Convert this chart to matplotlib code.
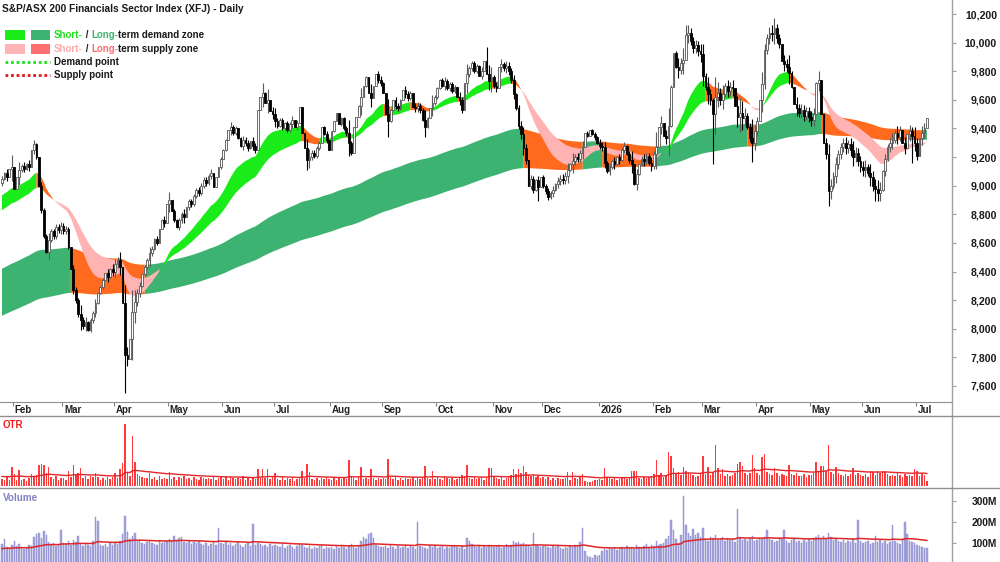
import numpy as np
import pandas as pd
import matplotlib
matplotlib.use("Agg")
import matplotlib.pyplot as plt
from matplotlib.lines import Line2D
from matplotlib.patches import Rectangle

plt.rcParams['font.family'] = ['Liberation Sans', 'DejaVu Sans']

# daily closes, one list per month
close_jan25 = [9050, 9090, 9060, 9120, 9130]
close_feb25 = [8980, 9060, 9110, 9140, 9120, 9150, 9130, 9250, 9290, 9200, 9000, 8830, 8650, 8540, 8620, 8680, 8650, 8710, 8690, 8720]
close_mar25 = [8680, 8700, 8570, 8420, 8270, 8200, 8100, 8060, 8020, 8050, 7990, 8060, 8110, 8180, 8250, 8290, 8340, 8390, 8360, 8420, 8400]
close_apr25 = [8450, 8480, 8430, 8180, 7820, 7790, 7930, 8120, 8190, 8250, 8300, 8380, 8430, 8480, 8530, 8560, 8630, 8600, 8700, 8760, 8740, 8870]
close_may25 = [8900, 8820, 8760, 8710, 8760, 8800, 8780, 8850, 8890, 8870, 8930, 8970, 8950, 9000, 9040, 9020, 9070, 9090, 8990, 9060, 9130, 9190]
close_jun25 = [9250, 9320, 9390, 9410, 9370, 9400, 9330, 9280, 9320, 9300, 9260, 9310, 9280, 9250, 9530, 9620, 9650, 9580, 9600, 9520, 9500]
close_jul25 = [9450, 9420, 9460, 9400, 9440, 9390, 9430, 9460, 9410, 9440, 9550, 9370, 9260, 9180, 9200, 9230, 9210, 9260, 9300, 9410, 9360, 9320, 9250]
close_aug25 = [9380, 9450, 9510, 9430, 9470, 9400, 9370, 9300, 9230, 9410, 9480, 9560, 9620, 9700, 9760, 9650, 9610, 9700, 9780, 9740, 9720]
close_sep25 = [9650, 9500, 9450, 9530, 9600, 9560, 9540, 9600, 9670, 9640, 9610, 9650, 9550, 9540, 9560, 9530, 9460, 9410, 9470, 9540, 9580, 9620]
close_oct25 = [9680, 9740, 9700, 9730, 9680, 9710, 9660, 9690, 9620, 9600, 9530, 9720, 9780, 9820, 9860, 9800, 9840, 9770, 9800, 9870, 9780, 9730, 9760]
close_nov25 = [9700, 9680, 9830, 9850, 9820, 9840, 9800, 9740, 9640, 9540, 9420, 9360, 9260, 9180, 9000, 9050, 8970, 9040, 8990, 9060]
close_dec25 = [9000, 8960, 8920, 8950, 8970, 9010, 9030, 9050, 9040, 9070, 9110, 9150, 9170, 9200, 9190, 9230, 9270, 9370, 9350, 9390, 9360, 9340, 9300]
close_jan26 = [9280, 9270, 9160, 9100, 9130, 9170, 9150, 9200, 9180, 9250, 9280, 9220, 9180, 9150, 9010, 9080, 9150, 9190, 9170, 9210, 9160, 9140]
close_feb26 = [9220, 9270, 9410, 9440, 9350, 9330, 9420, 9690, 9930, 9830, 9810, 9860, 9880, 10050, 10070, 10010, 9960, 9980, 9940, 9920]
close_mar26 = [9770, 9690, 9640, 9600, 9500, 9620, 9650, 9600, 9640, 9700, 9660, 9690, 9680, 9560, 9480, 9510, 9470, 9490, 9410, 9330, 9300, 9380]
close_apr26 = [9450, 9600, 9710, 9950, 10030, 10070, 10060, 10100, 10030, 9990, 9870, 9850, 9830, 9790, 9690, 9570, 9540, 9510, 9530, 9490, 9520, 9480]
close_may26 = [9460, 9500, 9720, 9740, 9500, 9300, 9220, 8960, 9000, 9070, 9150, 9220, 9270, 9300, 9260, 9290, 9250, 9200, 9230, 9170, 9130]
close_jun26 = [9110, 9130, 9090, 9060, 9000, 8980, 8950, 8970, 9100, 9190, 9270, 9300, 9320, 9370, 9340, 9390, 9300, 9260, 9360, 9380, 9350, 9300]
close_jul26 = [9210, 9330, 9370, 9400, 9470]

# daily range (OTR panel), index points
otr_jan25 = [70, 55, 90, 60, 185]
otr_feb25 = [120, 60, 160, 55, 70, 45, 80, 120, 90, 110, 205, 215, 205, 130, 185, 90, 70, 100, 60, 80]
otr_mar25 = [75, 60, 150, 90, 205, 110, 130, 175, 80, 95, 70, 100, 85, 130, 90, 60, 75, 55, 90, 70, 85]
otr_apr25 = [130, 80, 165, 225, 610, 130, 100, 490, 235, 120, 100, 90, 75, 80, 130, 70, 85, 60, 95, 70, 80, 65]
otr_may25 = [140, 70, 90, 60, 85, 75, 100, 65, 80, 55, 90, 70, 60, 85, 75, 65, 80, 70, 95, 60, 75, 85]
otr_jun25 = [70, 85, 60, 90, 75, 65, 80, 70, 95, 60, 75, 55, 85, 70, 165, 80, 165, 75, 165, 70, 85]
otr_jul25 = [130, 70, 60, 85, 55, 75, 65, 80, 50, 70, 90, 150, 75, 215, 135, 70, 55, 80, 60, 75, 65, 90, 70]
otr_aug25 = [60, 75, 55, 80, 65, 90, 70, 255, 95, 75, 60, 85, 185, 70, 80, 65, 165, 75, 60, 80, 70]
otr_sep25 = [80, 65, 265, 90, 70, 85, 60, 75, 55, 80, 70, 65, 85, 60, 75, 70, 90, 195, 80, 65, 150, 70]
otr_oct25 = [85, 70, 60, 95, 75, 65, 80, 55, 70, 85, 110, 95, 205, 80, 70, 90, 65, 75, 85, 60, 80, 175, 175]
otr_nov25 = [90, 75, 70, 85, 60, 80, 95, 110, 165, 120, 165, 130, 195, 140, 110, 95, 120, 85, 100, 75]
otr_dec25 = [90, 70, 85, 60, 80, 55, 75, 65, 70, 80, 140, 60, 140, 75, 65, 85, 120, 50, 40, 35, 45, 55, 60]
otr_jan26 = [70, 60, 180, 85, 75, 65, 80, 55, 70, 90, 75, 65, 80, 150, 150, 150, 80, 70, 90, 75, 85, 100]
otr_feb26 = [120, 255, 110, 130, 90, 100, 335, 295, 180, 120, 140, 110, 185, 150, 130, 120, 110, 90, 100, 125]
otr_mar26 = [295, 120, 185, 110, 130, 400, 175, 120, 165, 100, 120, 95, 110, 130, 215, 235, 200, 130, 110, 130, 305, 175]
otr_apr26 = [130, 110, 285, 315, 140, 120, 110, 175, 130, 100, 120, 110, 95, 205, 120, 110, 130, 95, 100, 115, 90, 105]
otr_may26 = [110, 130, 235, 140, 195, 195, 150, 400, 140, 120, 185, 130, 110, 100, 115, 95, 120, 175, 105, 130, 110]
otr_jun26 = [100, 120, 90, 150, 140, 110, 150, 130, 145, 150, 120, 100, 110, 95, 130, 105, 90, 115, 100, 110, 95, 165]
otr_jul26 = [150, 100, 130, 110, 50]

# volume, millions
vol_jan25 = [95, 120, 80, 75, 90]
vol_feb25 = [110, 85, 95, 80, 70, 75, 90, 88, 130, 145, 150, 125, 155, 140, 105, 95, 100, 85, 92, 160]
vol_mar25 = [100, 95, 110, 90, 115, 105, 133, 95, 88, 100, 92, 85, 110, 225, 205, 90, 85, 95, 80, 100, 90]
vol_apr25 = [105, 95, 110, 143, 228, 152, 120, 133, 150, 110, 115, 100, 95, 105, 110, 100, 95, 90, 115, 100, 105, 110]
vol_may25 = [120, 110, 133, 115, 125, 130, 105, 100, 110, 95, 105, 100, 110, 95, 90, 100, 85, 95, 105, 90, 171, 100]
vol_jun25 = [95, 110, 90, 100, 85, 95, 105, 90, 80, 95, 100, 85, 190, 90, 100, 95, 85, 90, 80, 95, 85]
vol_jul25 = [90, 85, 80, 95, 75, 85, 90, 80, 70, 85, 95, 90, 80, 75, 85, 70, 80, 75, 85, 90, 70, 80, 75]
vol_aug25 = [80, 70, 85, 75, 90, 80, 70, 85, 95, 80, 75, 90, 110, 130, 120, 145, 150, 125, 90, 85, 80]
vol_sep25 = [80, 85, 75, 90, 80, 70, 85, 75, 80, 90, 75, 85, 80, 70, 200, 85, 80, 75, 70, 85, 80, 90]
vol_oct25 = [75, 80, 85, 70, 80, 75, 85, 90, 80, 75, 85, 70, 124, 110, 95, 85, 80, 90, 75, 85, 80, 90, 85]
vol_nov25 = [80, 85, 90, 75, 80, 95, 85, 90, 110, 100, 105, 95, 100, 90, 85, 80, 148, 90, 85, 80]
vol_dec25 = [85, 90, 80, 75, 85, 80, 90, 75, 70, 80, 75, 85, 80, 90, 85, 105, 171, 60, 40, 35, 30, 45, 40]
vol_jan26 = [45, 60, 70, 65, 75, 70, 80, 65, 75, 80, 70, 85, 75, 80, 70, 90, 80, 75, 85, 95, 80, 90]
vol_feb26 = [85, 110, 90, 95, 100, 120, 135, 210, 162, 120, 100, 140, 324, 186, 150, 135, 165, 140, 150, 130]
vol_mar26 = [171, 120, 110, 130, 125, 140, 115, 120, 130, 110, 125, 115, 120, 105, 262, 130, 115, 120, 110, 125, 135, 110]
vol_apr26 = [115, 125, 120, 130, 162, 120, 115, 105, 110, 125, 120, 162, 110, 100, 115, 120, 105, 110, 100, 115, 105, 120]
vol_may26 = [110, 125, 130, 140, 125, 135, 120, 150, 130, 115, 120, 110, 105, 115, 100, 110, 105, 120, 100, 210, 110]
vol_jun26 = [100, 105, 110, 95, 100, 133, 105, 115, 100, 110, 95, 105, 186, 110, 100, 95, 120, 200, 143, 110, 105, 100]
vol_jul26 = [90, 85, 80, 75, 75]

# long wicks that stick out (day index -> price)
wick_lows = {50: 7550, 218: 8890, 289: 9150, 336: 8860, 355: 8890, 370: 9160}
wick_highs = {13: 9320, 197: 9970, 278: 10120, 314: 10170}

closes = np.array(close_jan25 + close_feb25 + close_mar25 + close_apr25 + close_may25 + close_jun25
                  + close_jul25 + close_aug25 + close_sep25 + close_oct25 + close_nov25 + close_dec25
                  + close_jan26 + close_feb26 + close_mar26 + close_apr26 + close_may26 + close_jun26
                  + close_jul26, dtype=float)
otr = np.array(otr_jan25 + otr_feb25 + otr_mar25 + otr_apr25 + otr_may25 + otr_jun25 + otr_jul25
               + otr_aug25 + otr_sep25 + otr_oct25 + otr_nov25 + otr_dec25 + otr_jan26 + otr_feb26
               + otr_mar26 + otr_apr26 + otr_may26 + otr_jun26 + otr_jul26, dtype=float)
volume = np.array(vol_jan25 + vol_feb25 + vol_mar25 + vol_apr25 + vol_may25 + vol_jun25 + vol_jul25
                  + vol_aug25 + vol_sep25 + vol_oct25 + vol_nov25 + vol_dec25 + vol_jan26 + vol_feb26
                  + vol_mar26 + vol_apr26 + vol_may26 + vol_jun26 + vol_jul26, dtype=float)
dates = pd.bdate_range('2025-01-27', periods=len(closes))

# starting levels of the averages at the left edge (from the chart)
first_open = 9020
short_seed = (8920, 8816)
long_seed = (8411, 8083)
otr_ma_seed = 95
vol_ma_seed = 72


def ema(v, span, seed):
    a = 2.0 / (span + 1)
    out = np.empty(len(v))
    prev = seed
    for i, val in enumerate(v):
        prev = prev + a * (val - prev)
        out[i] = prev
    return out


def demand_flag(c, fast, slow):
    # drops out when the close falls under the middle of the zone,
    # comes back once the close clears the top of it
    flag = np.zeros(len(c), bool)
    on = True
    for i in range(len(c)):
        mid = (fast[i] + slow[i]) / 2
        hi = max(fast[i], slow[i])
        if on and c[i] < mid:
            on = False
        elif not on and c[i] > hi:
            on = True
        flag[i] = on
    return flag


x = np.arange(len(closes))
opens = np.r_[first_open, closes[:-1]]
body = np.abs(closes - opens)
rng = np.maximum(otr, body)
top = np.maximum(opens, closes) + (rng - body) / 2
bot = np.minimum(opens, closes) - (rng - body) / 2
for i, v in wick_lows.items():
    bot[i] = v
for i, v in wick_highs.items():
    top[i] = v

sf = ema(closes, 22, short_seed[0])
ss = ema(closes, 40, short_seed[1])
lf = ema(closes, 150, long_seed[0])
ls = ema(closes, 250, long_seed[1])
otr_ma = ema(otr, 40, otr_ma_seed)
vol_ma = ema(volume, 50, vol_ma_seed)

# 0 demand, 1 supply, 2 supply with the averages crossed over
long_dem = demand_flag(closes, lf, ls)
long_state = np.where(lf < ls, 2, np.where(long_dem, 0, 1))
short_dem = demand_flag(closes, sf, ss) & (closes > np.maximum(lf, ls))
short_state = np.where(sf < ss, 2, np.where(short_dem, 0, 1))

GREEN_S = '#19ec19'
GREEN_L = '#3cb371'
PINK = '#ffb3b3'
ORANGE = '#ff6a1f'
SALMON = '#ff6f6f'
TXT = '#1a1a1a'
GRID = '#a0a0a0'

W, H = 1000, 562
fig = plt.figure(figsize=(10, 5.62), dpi=100)


def box(l, t, r, b):
    return [l / W, 1 - b / H, (r - l) / W, (b - t) / H]


def fx(px):
    return px / W


def fy(py):
    return 1 - py / H


ax = fig.add_axes(box(0, 0, 952, 402))
axm = fig.add_axes(box(0, 402, 952, 416))
axo = fig.add_axes(box(0, 416, 952, 488))
axv = fig.add_axes(box(0, 488, 952, 562))
xlim = (-0.8, 386.2)


def zone(a, lo, hi, states, colors, z):
    for k, col in enumerate(colors):
        m = states == k
        m = m | np.r_[m[1:], False]
        a.fill_between(x, lo, hi, where=m, color=col, lw=0, zorder=z)


zone(ax, ls, lf, long_state, [GREEN_L, ORANGE, SALMON], 1)
zone(ax, ss, sf, short_state, [GREEN_S, ORANGE, PINK], 2)

up = closes >= opens
ax.vlines(x[up], bot[up], top[up], color='#5a5a5a', lw=0.8, zorder=3)
ax.vlines(x[~up], bot[~up], top[~up], color='black', lw=0.8, zorder=3)
ax.bar(x[up], (closes - opens)[up], bottom=opens[up], width=0.72, color='white',
       edgecolor='#555555', lw=0.6, zorder=4)
ax.bar(x[~up], (closes - opens)[~up], bottom=opens[~up], width=0.72, color='black',
       edgecolor='black', lw=0.6, zorder=4)

ax.set_xlim(*xlim)
ax.set_ylim(7488, 10298)
for s in ax.spines.values():
    s.set_visible(False)
ax.set_xticks([])
ax.yaxis.tick_right()
ax.set_yticks(np.arange(7600, 10201, 200))
ax.set_yticklabels([f'{v:,}' for v in range(7600, 10201, 200)])
ax.tick_params(axis='y', length=3, color=GRID, pad=29.4, labelsize=7.6, labelcolor=TXT)
plt.setp(ax.get_yticklabels(), ha='right', weight='bold')

# month strip
starts = [i for i in range(1, len(dates)) if dates[i].month != dates[i - 1].month]
axm.set_xlim(*xlim)
axm.set_ylim(0, 1)
axm.set_yticks([])
axm.xaxis.set_ticks_position('top')
axm.set_xticks([s - 0.5 for s in starts])
axm.tick_params(axis='x', direction='in', length=3, color='#808080', labeltop=False, labelbottom=False)
for k, s in axm.spines.items():
    s.set_visible(k == 'top')
    s.set_color('#909090')
for i in starts:
    lab = '2026' if dates[i].month == 1 else dates[i].strftime('%b')
    axm.text(i + 0.2, 0.42, lab, ha='left', va='center', fontsize=7.0, weight='bold', color='#222222')

# OTR panel
axo.bar(x, otr, width=0.6, color='#ff3a3a', lw=0)
axo.plot(x, otr_ma, color='#e3262a', lw=1.0)
axo.set_xlim(*xlim)
axo.set_ylim(-20, 686)
axo.axis('off')

# volume panel
axv.bar(x, volume, width=0.6, color='#a4a4dc', edgecolor='#8a8acc', lw=0.3)
axv.plot(x, vol_ma, color='#e02626', lw=1.1)
axv.set_xlim(*xlim)
axv.set_ylim(9.5, 362)
for s in axv.spines.values():
    s.set_visible(False)
axv.set_xticks([])
axv.yaxis.tick_right()
axv.set_yticks([100, 200, 300])
axv.set_yticklabels(['100M', '200M', '300M'])
axv.tick_params(axis='y', length=3, color=GRID, pad=29.4, labelsize=7.4, labelcolor=TXT)
plt.setp(axv.get_yticklabels(), ha='right', weight='bold')

# frame lines
fig.add_artist(Line2D([fx(952), fx(952)], [0, 1], color=GRID, lw=1.0))
fig.add_artist(Line2D([0, 1], [fy(416), fy(416)], color='#909090', lw=1.0))
fig.add_artist(Line2D([0, 1], [fy(488), fy(488)], color='#909090', lw=1.0))

fig.text(fx(3), fy(425), 'OTR', color='#ee1c1c', fontsize=7.0, weight='bold', va='center')
fig.text(fx(3), fy(498), 'Volume', color='#8282c4', fontsize=7.1, weight='bold', va='center')

# title + legend
fig.text(fx(2), fy(9), 'S&P/ASX 200 Financials Sector Index (XFJ) - Daily', fontsize=7.3,
         weight='bold', color=TXT, va='center')

renderer = fig.canvas.get_renderer()


def parts(px, py, items):
    for s, col in items:
        t = fig.text(fx(px), fy(py), s, color=col, fontsize=7.0, weight='bold', va='center')
        px += t.get_window_extent(renderer).width


fig.add_artist(Rectangle((fx(5), fy(40)), fx(20), 10 / H, color=GREEN_S, lw=0))
fig.add_artist(Rectangle((fx(31), fy(40)), fx(19), 10 / H, color=GREEN_L, lw=0))
fig.add_artist(Rectangle((fx(5), fy(54)), fx(20), 10 / H, color=PINK, lw=0))
fig.add_artist(Rectangle((fx(31), fy(54)), fx(19), 10 / H, color=SALMON, lw=0))
parts(54, 35, [('Short-', '#22dd22'), (' / ', TXT), ('Long-', GREEN_L), ('term demand zone', TXT)])
parts(54, 49, [('Short-', '#ffaaaa'), (' / ', TXT), ('Long-', SALMON), ('term supply zone', TXT)])
fig.add_artist(Line2D([fx(5), fx(50)], [fy(62), fy(62)], color='#22dd22', lw=2.0, ls=(0, (1, 1))))
fig.add_artist(Line2D([fx(5), fx(50)], [fy(75), fy(75)], color='#e01818', lw=2.0, ls=(0, (1, 1))))
parts(54, 62, [('Demand point', TXT)])
parts(54, 75, [('Supply point', TXT)])

fig.savefig('out.png', dpi=100)
